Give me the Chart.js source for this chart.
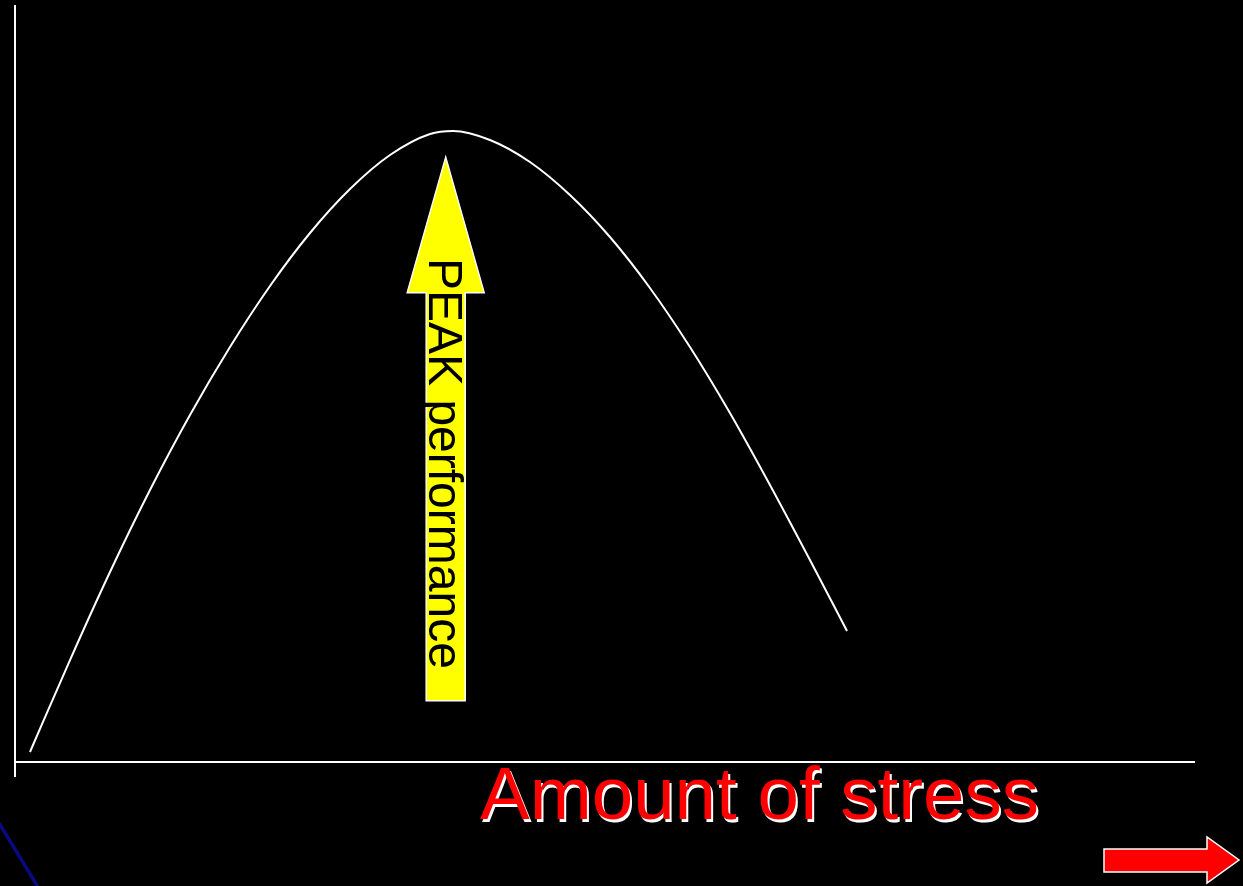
<!DOCTYPE html>
<html>
<head>
<meta charset="utf-8">
<script src="https://cdn.jsdelivr.net/npm/chart.js@4"></script>
<style>
  html, body { margin: 0; padding: 0; background: #000; overflow: hidden; }
  #wrap { width: 1243px; height: 886px; position: relative; }
</style>
</head>
<body>
<div id="wrap"><canvas id="c"></canvas></div>
<script>
// Inverted-U: performance rises with stress up to a peak, then falls off
const stressLevels = [1.27, 4.66, 8.05, 11.44, 14.83, 18.22, 21.61, 25.00, 28.39, 31.78, 35.17, 37.12,
                      40.25, 43.64, 47.03, 50.42, 53.81, 57.20, 60.59, 63.98, 67.37, 70.51];
const performance  = [1.32, 13.47, 25.10, 35.93, 45.84, 54.82, 62.88, 69.88, 75.69, 80.18, 82.96, 83.36,
                      82.17, 79.26, 74.90, 69.35, 62.62, 54.82, 46.10, 36.59, 26.68, 17.31];

const axisLabel = 'Amount of stress';
const peakLabel = 'PEAK performance';

// Peak arrow, in data units: shaft centre, tip, neck (head base) and tail
const peakArrow = { x: 36.5, tip: 79.9, neck: 62.0, tail: 8.1 };

const FONT = '"Liberation Sans", Arial, Helvetica, sans-serif';

const axesPlugin = {
  id: 'axesLines',
  beforeDatasetsDraw(chart) {
    const { ctx, chartArea: a } = chart;
    ctx.save();
    ctx.strokeStyle = '#ffffff';
    ctx.lineWidth = 2;
    ctx.beginPath();
    ctx.moveTo(a.left, a.top);
    ctx.lineTo(a.left, a.bottom + 15);
    ctx.moveTo(a.left, a.bottom);
    ctx.lineTo(a.right, a.bottom);
    ctx.stroke();
    ctx.restore();
  }
};

const peakPlugin = {
  id: 'peakArrow',
  afterDatasetsDraw(chart) {
    const { ctx } = chart;
    const xs = chart.scales.x, ys = chart.scales.y;
    const cx = xs.getPixelForValue(peakArrow.x);
    const tipY = ys.getPixelForValue(peakArrow.tip);
    const neckY = ys.getPixelForValue(peakArrow.neck);
    const tailY = ys.getPixelForValue(peakArrow.tail);
    const shaft = 19.5, head = 38.5;
    ctx.save();
    ctx.beginPath();
    ctx.moveTo(cx, tipY);
    ctx.lineTo(cx + head, neckY);
    ctx.lineTo(cx + shaft, neckY);
    ctx.lineTo(cx + shaft, tailY);
    ctx.lineTo(cx - shaft, tailY);
    ctx.lineTo(cx - shaft, neckY);
    ctx.lineTo(cx - head, neckY);
    ctx.closePath();
    ctx.fillStyle = '#ffff00';
    ctx.fill();
    ctx.strokeStyle = '#ffffff';
    ctx.lineWidth = 1.5;
    ctx.lineJoin = 'miter';
    ctx.stroke();

    // vertical label, reading top to bottom
    ctx.translate(cx - 17, 258);
    ctx.rotate(Math.PI / 2);
    ctx.fillStyle = '#000000';
    ctx.font = '48px ' + FONT;
    ctx.textBaseline = 'alphabetic';
    ctx.textAlign = 'left';
    ctx.fillText(peakLabel, 0, 0);
    ctx.restore();
  }
};

const decorPlugin = {
  id: 'decor',
  afterDraw(chart) {
    const { ctx } = chart;
    ctx.save();
    // axis caption with white drop shadow
    ctx.font = '74.5px ' + FONT;
    ctx.textBaseline = 'alphabetic';
    ctx.fillStyle = '#ffffff';
    ctx.fillText(axisLabel, 482, 822);
    ctx.fillStyle = '#ff0000';
    ctx.fillText(axisLabel, 480, 819);

    // red "next" arrow
    ctx.beginPath();
    ctx.moveTo(1104, 849);
    ctx.lineTo(1207, 849);
    ctx.lineTo(1207, 837);
    ctx.lineTo(1239, 860);
    ctx.lineTo(1207, 883);
    ctx.lineTo(1207, 872);
    ctx.lineTo(1104, 872);
    ctx.closePath();
    ctx.fillStyle = '#ff0000';
    ctx.fill();
    ctx.strokeStyle = '#ffffff';
    ctx.lineWidth = 1.5;
    ctx.stroke();

    // navy corner stroke
    ctx.beginPath();
    ctx.moveTo(-1, 823);
    ctx.lineTo(38, 887);
    ctx.strokeStyle = '#0a0a80';
    ctx.lineWidth = 3.5;
    ctx.stroke();
    ctx.restore();
  }
};

new Chart(document.getElementById('c'), {
  type: 'line',
  data: {
    datasets: [{
      data: stressLevels.map((s, i) => ({ x: s, y: performance[i] })),
      borderColor: '#ffffff',
      borderWidth: 2,
      pointRadius: 0,
      fill: false,
      cubicInterpolationMode: 'monotone'
    }]
  },
  options: {
    responsive: true,
    maintainAspectRatio: false,
    animation: false,
    layout: { padding: { left: 15, top: 5, right: 48, bottom: 124 } },
    plugins: { legend: { display: false }, tooltip: { enabled: false } },
    scales: {
      x: { type: 'linear', min: 0, max: 100, display: false },
      y: { type: 'linear', min: 0, max: 100, display: false }
    }
  },
  plugins: [axesPlugin, peakPlugin, decorPlugin]
});
</script>
</body>
</html>
